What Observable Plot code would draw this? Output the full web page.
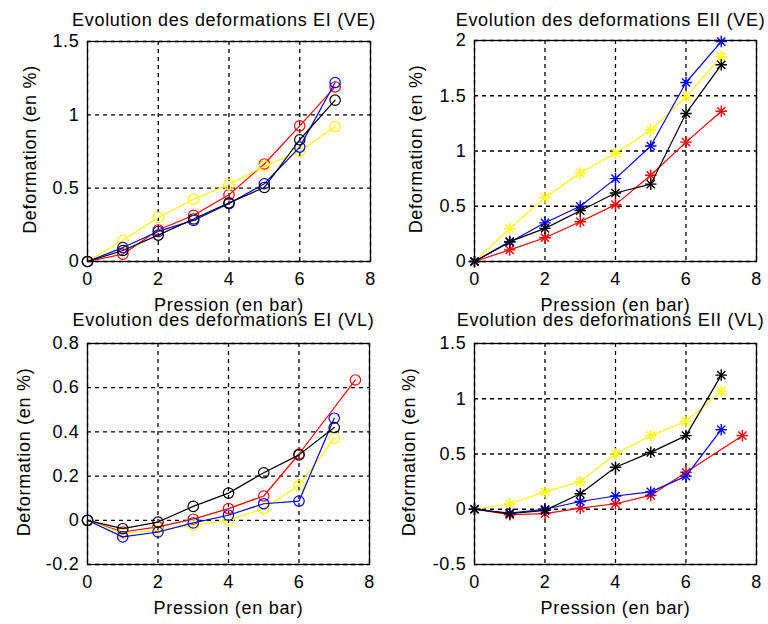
<!DOCTYPE html>
<html>
<head>
<meta charset="utf-8">
<script src="https://cdn.jsdelivr.net/npm/d3@7"></script>
<script src="https://cdn.jsdelivr.net/npm/@observablehq/plot@0.6"></script>
<style>
  html, body { margin: 0; padding: 0; background: #fff; }
  #root { position: relative; width: 768px; height: 624px; background: #fff; overflow: hidden; }
  .panel { position: absolute; width: 384px; height: 312px; }
  .panel svg { overflow: visible; }
</style>
</head>
<body>
<div id="root"></div>
<script>
// ---------- data ----------
const pression = [0, 1, 2, 3, 4, 5, 6, 7];
const pressionVLRouge = [0, 1, 2, 3, 4, 5, 6, 7.6];

// EI (VE)
const eiVE_rouge = [0, 0.05, 0.215, 0.315, 0.455, 0.665, 0.925, 1.19];
const eiVE_jaune = [0, 0.145, 0.30, 0.425, 0.525, 0.65, 0.75, 0.92];
const eiVE_bleu  = [0, 0.095, 0.205, 0.28, 0.395, 0.53, 0.78, 1.22];
const eiVE_noir  = [0, 0.075, 0.18, 0.29, 0.40, 0.505, 0.83, 1.10];

// EII (VE)
const eiiVE_rouge = [0, 0.105, 0.215, 0.36, 0.515, 0.78, 1.08, 1.36];
const eiiVE_jaune = [0, 0.30, 0.58, 0.80, 0.98, 1.19, 1.49, 1.855];
const eiiVE_bleu  = [0, 0.175, 0.35, 0.50, 0.75, 1.045, 1.62, 1.99];
const eiiVE_noir  = [0, 0.18, 0.30, 0.46, 0.62, 0.70, 1.34, 1.78];

// EI (VL)
const eiVL_rouge = [0, -0.053, -0.03, 0.005, 0.053, 0.11, 0.30, 0.635];
const eiVL_jaune = [0, -0.06, -0.045, -0.023, 0.0, 0.053, 0.158, 0.371];
const eiVL_bleu  = [0, -0.075, -0.053, -0.012, 0.023, 0.075, 0.087, 0.462];
const eiVL_noir  = [0, -0.038, -0.008, 0.063, 0.123, 0.215, 0.296, 0.42];

// EII (VL)
const eiiVL_rouge = [0, -0.05, -0.04, 0.01, 0.05, 0.125, 0.335, 0.666];
const eiiVL_jaune = [0, 0.05, 0.157, 0.25, 0.50, 0.666, 0.795, 1.066];
const eiiVL_bleu  = [0, -0.035, 0.0, 0.07, 0.12, 0.157, 0.30, 0.72];
const eiiVL_noir  = [0, -0.04, -0.01, 0.14, 0.38, 0.515, 0.666, 1.214];

const titles = [
  "Evolution des deformations EI (VE)",
  "Evolution des deformations EII (VE)",
  "Evolution des deformations EI (VL)",
  "Evolution des deformations EII (VL)"
];
const xLabel = "Pression (en bar)";
const yLabel = "Deformation (en %)";
const xTicks = [0, 2, 4, 6, 8];
const yTicks1 = [0, 0.5, 1, 1.5];
const yTicks2 = [0, 0.5, 1, 1.5, 2];
const yTicks3 = [-0.2, 0, 0.2, 0.4, 0.6, 0.8];
const yTicks4 = [-0.5, 0, 0.5, 1, 1.5];

// ---------- panels ----------
const panels = [
  { left: 0, top: 0, title: titles[0], marker: "circle", yTicks: yTicks1,
    m: { l: 87, r: 14, t: 41, b: 51 }, ylabDx: -52,
    series: [
      { c: "red", x: pression, y: eiVE_rouge },
      { c: "yellow", x: pression, y: eiVE_jaune },
      { c: "blue", x: pression, y: eiVE_bleu },
      { c: "black", x: pression, y: eiVE_noir }
    ] },
  { left: 384, top: 0, title: titles[1], marker: "star", yTicks: yTicks2,
    m: { l: 90, r: 12, t: 40, b: 51 }, ylabDx: -53,
    series: [
      { c: "red", x: pression, y: eiiVE_rouge },
      { c: "yellow", x: pression, y: eiiVE_jaune },
      { c: "blue", x: pression, y: eiiVE_bleu },
      { c: "black", x: pression, y: eiiVE_noir }
    ] },
  { left: 0, top: 312, title: titles[2], marker: "circle", yTicks: yTicks3,
    m: { l: 87, r: 15, t: 31, b: 60 }, ylabDx: -58,
    series: [
      { c: "red", x: pressionVLRouge, y: eiVL_rouge },
      { c: "yellow", x: pression, y: eiVL_jaune },
      { c: "blue", x: pression, y: eiVL_bleu },
      { c: "black", x: pression, y: eiVL_noir }
    ] },
  { left: 384, top: 312, title: titles[3], marker: "star", yTicks: yTicks4,
    m: { l: 90, r: 12, t: 31, b: 60 }, ylabDx: -60,
    series: [
      { c: "red", x: pressionVLRouge, y: eiiVL_rouge },
      { c: "yellow", x: pression, y: eiiVL_jaune },
      { c: "blue", x: pression, y: eiiVL_bleu },
      { c: "black", x: pression, y: eiiVL_noir }
    ] }
];

const root = document.getElementById("root");
const fmt = d => String(d);

for (const p of panels) {
  const yDomain = [p.yTicks[0], p.yTicks[p.yTicks.length - 1]];
  const marks = [
    Plot.gridX(xTicks, { stroke: "black", strokeOpacity: 1, strokeWidth: 1.3, strokeDasharray: "4,4" }),
    Plot.gridY(p.yTicks, { stroke: "black", strokeOpacity: 1, strokeWidth: 1.3, strokeDasharray: "4,4" })
  ];
  for (const s of p.series) {
    const rows = s.x.map((x, i) => ({ x, y: s.y[i] }));
    marks.push(Plot.line(rows, { x: "x", y: "y", stroke: s.c, strokeWidth: 1.2 }));
    if (p.marker === "circle") {
      marks.push(Plot.dot(rows, { x: "x", y: "y", stroke: s.c, strokeWidth: 1.2, r: 5.2, symbol: "circle", fill: "none" }));
    } else {
      marks.push(Plot.dot(rows, { x: "x", y: "y", stroke: s.c, strokeWidth: 1.4, r: 3.8, symbol: "plus" }));
      marks.push(Plot.dot(rows, { x: "x", y: "y", stroke: s.c, strokeWidth: 1.4, r: 3.8, symbol: "times" }));
    }
  }
  marks.push(Plot.frame({ stroke: "black", strokeWidth: 1.3 }));
  marks.push(Plot.text([p.title], { text: d => d, frameAnchor: "top", lineAnchor: "bottom",
    dy: -(p.m.t - (p.top === 0 ? 25 : 13)), dx: -5, fill: "black" }));
  marks.push(Plot.text([xLabel], { text: d => d, frameAnchor: "bottom", lineAnchor: "bottom",
    dy: 49, fill: "black" }));
  marks.push(Plot.text([yLabel], { text: d => d, frameAnchor: "left", textAnchor: "middle", lineAnchor: "bottom",
    rotate: -90, dx: p.ylabDx, dy: -2, fill: "black" }));

  const chart = Plot.plot({
    width: 384,
    height: 312,
    marginLeft: p.m.l,
    marginRight: p.m.r,
    marginTop: p.m.t,
    marginBottom: p.m.b,
    style: { background: "transparent", fontFamily: "'Liberation Sans', Arial, sans-serif",
      fontSize: "18px", letterSpacing: "0.7px", color: "black", overflow: "visible" },
    x: { domain: [0, 8], ticks: xTicks, tickSize: 0, tickPadding: 11, tickFormat: fmt, label: null },
    y: { domain: yDomain, ticks: p.yTicks, tickSize: 0, tickPadding: 8, tickFormat: fmt, label: null },
    marks
  });
  const div = document.createElement("div");
  div.className = "panel";
  div.style.left = p.left + "px";
  div.style.top = p.top + "px";
  div.appendChild(chart);
  root.appendChild(div);
}
</script>
</body>
</html>
